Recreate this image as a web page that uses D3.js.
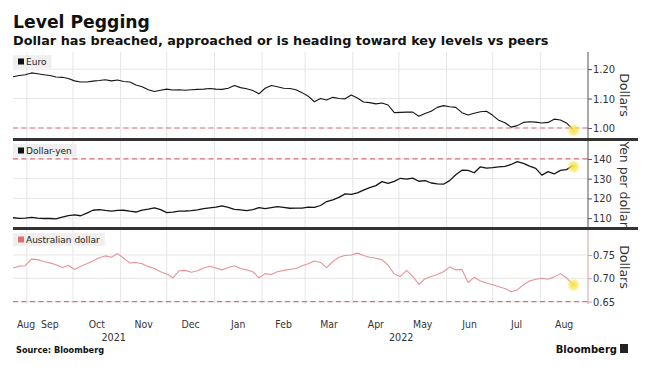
<!DOCTYPE html>
<html>
<head>
<meta charset="utf-8">
<script src="https://cdn.jsdelivr.net/npm/d3@7"></script>
<style>
body { margin: 0; background: #fff; }
text { font-family: "DejaVu Sans", Verdana, sans-serif; }
</style>
</head>
<body>
<div id="chart"></div>
<script>
// one reading every 4 calendar days, 23 Aug 2021 -> 22 Aug 2022
const startDate = "2021-08-23";
const endDate = "2022-09-01";
const stepDays = 4;

const euro = [
  1.174, 1.178, 1.181, 1.187, 1.184, 1.181, 1.178, 1.173, 1.172, 1.168,
  1.160, 1.156, 1.156, 1.159, 1.161, 1.164, 1.160, 1.163, 1.158, 1.156,
  1.146, 1.140, 1.130, 1.124, 1.128, 1.132, 1.129, 1.130, 1.128, 1.130,
  1.131, 1.132, 1.134, 1.132, 1.131, 1.135, 1.144, 1.137, 1.133, 1.127,
  1.116, 1.135, 1.144, 1.140, 1.135, 1.134, 1.130, 1.120, 1.108, 1.089,
  1.100, 1.095, 1.104, 1.100, 1.099, 1.112, 1.102, 1.088, 1.086, 1.082,
  1.085, 1.078, 1.052, 1.053, 1.054, 1.054, 1.040, 1.049, 1.057, 1.070,
  1.076, 1.072, 1.070, 1.052, 1.044, 1.050, 1.055, 1.057, 1.043, 1.026,
  1.018, 1.003, 1.008, 1.019, 1.021, 1.020, 1.017, 1.019, 1.030, 1.027,
  1.017, 0.996
];

const yen = [
  110.2, 109.9, 110.0, 110.4, 110.0, 109.8, 109.8, 109.6, 110.5, 111.3,
  111.6, 111.2, 112.5, 114.0, 114.3, 113.9, 113.6, 113.9, 114.0, 113.5,
  113.1, 114.1, 114.6, 115.2, 114.3, 112.8, 113.0, 113.5, 113.6, 113.8,
  114.2, 114.8, 115.2, 115.6, 116.2, 115.4, 114.4, 114.2, 113.8, 114.3,
  115.3, 114.8, 115.3, 115.8, 115.5, 115.0, 115.1, 115.1, 115.6, 115.5,
  116.4, 118.4, 119.3, 120.5, 122.3, 122.0, 122.8, 124.2, 125.5, 126.5,
  128.5, 127.6, 128.6, 130.2, 129.8, 130.3, 128.7, 129.0, 127.8, 127.4,
  127.2, 129.0, 132.0, 134.3, 134.2, 133.0, 136.0, 135.3, 135.6, 136.0,
  136.2, 137.2, 138.6, 137.8, 136.4, 135.2, 131.8, 133.6, 132.4, 134.2,
  134.6, 136.6
];

const aud = [
  0.722, 0.726, 0.727, 0.741, 0.740, 0.736, 0.733, 0.729, 0.723, 0.728,
  0.719, 0.726, 0.731, 0.737, 0.744, 0.748, 0.745, 0.753, 0.743, 0.733,
  0.734, 0.731, 0.725, 0.721, 0.714, 0.709, 0.701, 0.716, 0.717, 0.713,
  0.716, 0.722, 0.726, 0.722, 0.718, 0.723, 0.727, 0.721, 0.718, 0.714,
  0.701, 0.710, 0.708, 0.714, 0.717, 0.719, 0.721, 0.727, 0.731, 0.737,
  0.734, 0.723, 0.736, 0.745, 0.749, 0.750, 0.754, 0.749, 0.745, 0.743,
  0.740, 0.728, 0.709, 0.704, 0.717, 0.704, 0.687, 0.699, 0.704, 0.708,
  0.714, 0.724, 0.718, 0.719, 0.691, 0.702, 0.694, 0.690, 0.686, 0.682,
  0.678, 0.671, 0.675, 0.686, 0.694, 0.698, 0.700, 0.698, 0.703, 0.710,
  0.701, 0.688
];

const euroTicks = [1.00, 1.10, 1.20];
const yenTicks = [110, 120, 130, 140];
const audTicks = [0.65, 0.70, 0.75];

// key levels (dashed lines)
const euroLevel = 1.00;
const yenLevel = 140;
const audLevel = 0.65;

const monthLabels = ["Aug", "Sep", "Oct", "Nov", "Dec", "Jan", "Feb", "Mar", "Apr", "May", "Jun", "Jul", "Aug"];
const yearLabels = ["2021", "2022"];

const width = 649, height = 376;
const left = 13, right = 588;

const parse = d3.timeParse("%Y-%m-%d");
const start = parse(startDate), end = parse(endDate);
const dates = euro.map((d, i) => d3.timeDay.offset(start, i * stepDays));

const x = d3.scaleTime().domain([start, end]).range([left, right]);

const svg = d3.select("#chart")
    .append("svg")
    .attr("width", width)
    .attr("height", height);

// soft yellow marker for the latest value
const glow = svg.append("defs").append("radialGradient").attr("id", "glow");
glow.append("stop").attr("offset", "0%").attr("stop-color", "#f4e03a").attr("stop-opacity", 0.95);
glow.append("stop").attr("offset", "60%").attr("stop-color", "#f6e65a").attr("stop-opacity", 0.7);
glow.append("stop").attr("offset", "100%").attr("stop-color", "#f8ec8a").attr("stop-opacity", 0);

let addText = function(g, px, py, str, size, opts) {
    opts = opts || {};
    return g.append("text")
        .attr("transform", `translate(${px},${py}) scale(${opts.sx || 1},1)`)
        .attr("text-anchor", opts.anchor || "start")
        .style("font-size", size + "px")
        .style("font-weight", opts.weight || "normal")
        .attr("fill", opts.fill || "#222")
        .text(str);
};

// title + subtitle, squeezed to the widths in the picture
let fitText = function(t, target) {
    const len = t.node().getComputedTextLength();
    const m = t.attr("transform").match(/translate\(([^)]*)\)/)[1];
    t.attr("transform", `translate(${m}) scale(${target / len},1)`);
};
fitText(addText(svg, 13, 28, "Level Pegging", 17.5, {weight: "bold", fill: "#111"}), 137);
fitText(addText(svg, 13, 45, "Dollar has breached, approached or is heading toward key levels vs peers", 12.8, {weight: "bold", fill: "#111"}), 536);

const panels = [
    {label: "Euro", values: euro, ticks: euroTicks, level: euroLevel, title: "Dollars",
     top: 52, bottom: 138, domain: [0.966, 1.258], fmt: ".2f",
     line: "#151515", lw: 1.1, key: "#111", axis: "#555"},
    {label: "Dollar-yen", values: yen, ticks: yenTicks, level: yenLevel, title: "Yen per dollar",
     top: 141, bottom: 227, domain: [105.5, 149.1], fmt: "d",
     line: "#151515", lw: 1.3, key: "#111", axis: "#555"},
    {label: "Australian dollar", values: aud, ticks: audTicks, level: audLevel, title: "Dollars",
     top: 230, bottom: 304, domain: [0.6448, 0.8036], fmt: ".2f",
     line: "#e49597", lw: 1.1, key: "#e07070", axis: "#dca0a4"}
];

const monthStarts = d3.timeMonth.range(d3.timeMonth.ceil(d3.timeDay.offset(start, 1)), end);

panels.forEach(function(p) {
    const y = d3.scaleLinear().domain(p.domain).range([p.bottom, p.top]);
    const g = svg.append("g");

    // grid
    g.selectAll(".vgrid")
        .data(monthStarts)
        .join("line")
        .attr("x1", d => x(d)).attr("x2", d => x(d))
        .attr("y1", p.top).attr("y2", p.bottom)
        .attr("stroke", "#e6e6e6")
        .attr("stroke-width", 1);

    g.selectAll(".hgrid")
        .data(p.ticks)
        .join("line")
        .attr("x1", left).attr("x2", right)
        .attr("y1", d => y(d)).attr("y2", d => y(d))
        .attr("stroke", "#e6e6e6")
        .attr("stroke-width", 1);

    // key level
    g.append("line")
        .attr("x1", left).attr("x2", right)
        .attr("y1", y(p.level)).attr("y2", y(p.level))
        .attr("stroke", "#d9707c")
        .attr("stroke-width", 1.2)
        .attr("stroke-dasharray", "5,3.5");

    // series
    const line = d3.line()
        .x((d, i) => x(dates[i]))
        .y(d => y(d));
    g.append("path")
        .datum(p.values)
        .attr("d", line)
        .attr("fill", "none")
        .attr("stroke", p.line)
        .attr("stroke-width", p.lw)
        .attr("stroke-linejoin", "round");

    const last = p.values.length - 1;
    g.append("circle")
        .attr("cx", x(dates[last]) + 1)
        .attr("cy", y(p.values[last]) + 1)
        .attr("r", 7)
        .attr("fill", "url(#glow)");

    // right axis
    const axis = g.append("g")
        .attr("transform", `translate(${right},0)`)
        .call(d3.axisRight(y).tickValues(p.ticks).tickSize(4).tickFormat(d3.format(p.fmt)));
    axis.select(".domain").remove();
    axis.selectAll(".tick line").attr("stroke", p.axis);
    axis.selectAll(".tick text").remove();
    g.append("line")
        .attr("x1", right).attr("x2", right)
        .attr("y1", p.top).attr("y2", p.bottom)
        .attr("stroke", p.axis)
        .attr("stroke-width", 1);
    p.ticks.forEach(function(t) {
        addText(g, 593, y(t) + 4, d3.format(p.fmt)(t), 11, {sx: 0.9, fill: "#333"});
    });

    // axis title, rotated to read downward
    g.append("text")
        .attr("transform", `translate(620,${(p.top + p.bottom) / 2}) rotate(90)`)
        .attr("text-anchor", "middle")
        .style("font-size", "12.5px")
        .attr("fill", "#333")
        .text(p.title);

    // legend chip
    const lg = g.append("g");
    const lt = addText(lg, 26, p.top + 13, p.label, 9, {fill: "#222"});
    const lw = lt.node().getComputedTextLength();
    lg.insert("rect", "text")
        .attr("x", left).attr("y", p.top + 3)
        .attr("width", lw + 18).attr("height", 13)
        .attr("fill", "#efefef");
    lg.append("rect")
        .attr("x", 18).attr("y", p.top + 6.5)
        .attr("width", 6).attr("height", 6)
        .attr("fill", p.key);
});

// panel separators
[139.5, 228.5].forEach(function(sy) {
    svg.append("line")
        .attr("x1", left).attr("x2", 638)
        .attr("y1", sy).attr("y2", sy)
        .attr("stroke", "#333")
        .attr("stroke-width", 3);
});

// month labels centred on each visible month
const monthAll = d3.timeMonth.range(d3.timeMonth.floor(start), end);
monthAll.forEach(function(m, i) {
    const a = m < start ? start : m;
    const nx = d3.timeMonth.offset(m, 1);
    const b = nx > end ? end : nx;
    let cx = (x(a) + x(b)) / 2;
    cx = Math.max(cx, left + 13);
    addText(svg, cx, 328, monthLabels[i], 11, {anchor: "middle", sx: 0.85, fill: "#333"});
});

// year labels centred on each visible year
d3.timeYear.range(d3.timeYear.floor(start), end).forEach(function(yr, i) {
    const a = yr < start ? start : yr;
    const nx = d3.timeYear.offset(yr, 1);
    const b = nx > end ? end : nx;
    addText(svg, (x(a) + x(b)) / 2, 341, yearLabels[i], 11, {anchor: "middle", sx: 0.88, fill: "#333"});
});

addText(svg, 16, 353, "Source: Bloomberg", 8.2, {weight: "bold", fill: "#111"});
addText(svg, 617, 353, "Bloomberg", 10, {weight: "bold", anchor: "end", fill: "#111"});
svg.append("rect")
    .attr("x", 620).attr("y", 344)
    .attr("width", 8).attr("height", 9)
    .attr("fill", "#222");
</script>
</body>
</html>
